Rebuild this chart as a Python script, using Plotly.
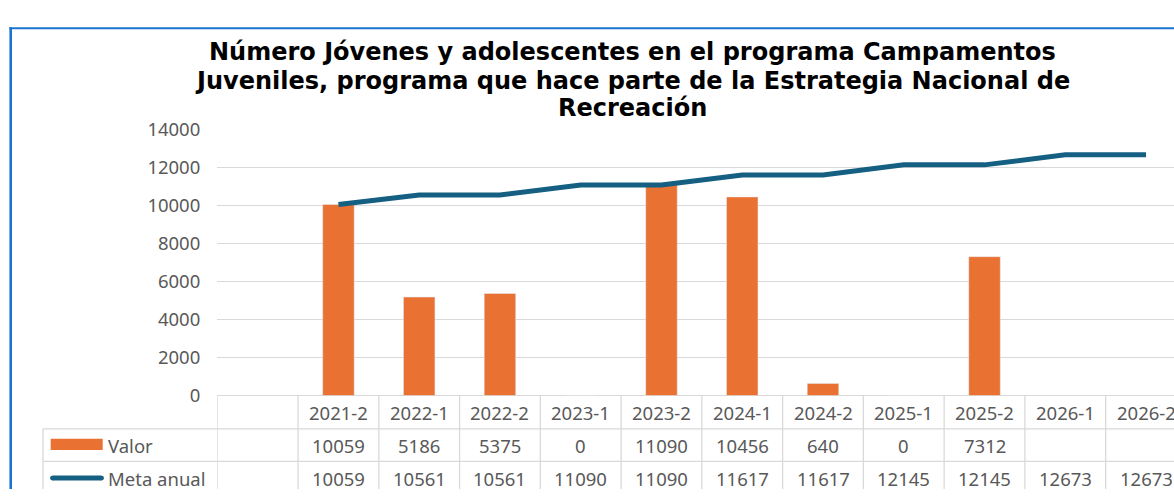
import plotly.graph_objects as go

# ---------------- data ----------------
categories = ["2021-2", "2022-1", "2022-2", "2023-1", "2023-2", "2024-1",
              "2024-2", "2025-1", "2025-2", "2026-1", "2026-2"]
valor = [10059, 5186, 5375, 0, 11090, 10456, 640, 0, 7312, None, None]
meta_anual = [10059, 10561, 10561, 11090, 11090, 11617, 11617, 12145, 12145, 12673, 12673]
series_names = ["Valor", "Meta anual"]
y_ticks = [0, 2000, 4000, 6000, 8000, 10000, 12000, 14000]
title_lines = [
    "Número Jóvenes y adolescentes en el programa Campamentos",
    "Juveniles, programa que hace parte de la Estrategia Nacional de",
    "Recreación",
]

# ---------------- styling ----------------
W, H = 1174, 500
ORANGE = "#E97132"
BLUE = "#156082"
GRID = "#D9D9D9"
TXT = "#595959"
FONT = "Noto Sans"
FS = 18.5


def px(x):
    return x / W


def py(y):
    return 1 - y / H


PLOT_L, PLOT_T, PLOT_B = 217.3, 121.7, 401.7
COL_W = 80.76
x_max = (W - PLOT_L) / COL_W - 0.5

# the first category column of the chart is blank; data sit at positions 1..N
x_pos = list(range(1, len(categories) + 1))

fig = go.Figure()
fig.add_trace(go.Bar(x=x_pos, y=valor, name=series_names[0], marker_color=ORANGE,
                     width=0.39, showlegend=False))
fig.add_trace(go.Scatter(x=x_pos, y=meta_anual, name=series_names[1], mode="lines",
                         line=dict(color=BLUE, width=5), showlegend=False))

shapes = []
annotations = []

# table rows (y pixel centres)
ROW_HDR, ROW_V, ROW_M = 419.5, 454.0, 488.5
LINE_1, LINE_2 = 436.7, 471.0

# horizontal table lines
for yl in (LINE_1, LINE_2):
    shapes.append(dict(type="line", xref="paper", yref="paper", x0=px(43), x1=1,
                       y0=py(yl), y1=py(yl), line=dict(color=GRID, width=1.3)))
# vertical table lines along category boundaries
for i in range(len(categories) + 1):
    shapes.append(dict(type="line", xref="x", yref="paper", x0=i - 0.5, x1=i - 0.5,
                       y0=py(PLOT_B), y1=0, line=dict(color=GRID, width=1.3)))
shapes.append(dict(type="line", xref="paper", yref="paper", x0=px(43), x1=px(43),
                   y0=py(LINE_1), y1=0, line=dict(color=GRID, width=1.3)))


def label(x, y, text, xref="paper", xanchor="center", **font):
    f = dict(family=FONT, size=FS, color=TXT)
    f.update(font)
    return dict(x=x, y=y, xref=xref, yref="paper", text=text, showarrow=False,
                xanchor=xanchor, yanchor="middle", font=f)


# table text
for xi, cat, v, m in zip(x_pos, categories, valor, meta_anual):
    annotations.append(label(xi, py(ROW_HDR), cat, xref="x"))
    if v is not None:
        annotations.append(label(xi, py(ROW_V), str(v), xref="x"))
    annotations.append(label(xi, py(ROW_M), str(m), xref="x"))

# legend keys in the table
shapes.append(dict(type="rect", xref="paper", yref="paper", x0=px(50.7), x1=px(102.7),
                   y0=py(459), y1=py(447), fillcolor=ORANGE, line=dict(width=0)))
shapes.append(dict(type="line", xref="paper", yref="paper", x0=px(52.5), x1=px(101.5),
                   y0=py(ROW_M), y1=py(ROW_M), line=dict(color=BLUE, width=5)))
for cx in (52.5, 101.5):
    shapes.append(dict(type="circle", xref="paper", yref="paper", x0=px(cx - 2.5), x1=px(cx + 2.5),
                       y0=py(ROW_M + 2.5), y1=py(ROW_M - 2.5), fillcolor=BLUE, line=dict(width=0)))
for name, yy in zip(series_names, (ROW_V, ROW_M)):
    annotations.append(label(px(106), py(yy), name, xanchor="left"))

# title (three centred lines)
for line_txt, yc in zip(title_lines, (39.5, 70, 99)):
    annotations.append(label(px(632), py(yc), "<b>" + line_txt + "</b>",
                             family="DejaVu Sans", size=24, color="#000000"))

# selection border of the chart (left and top)
shapes.append(dict(type="line", xref="paper", yref="paper", x0=px(10.7), x1=px(10.7),
                   y0=0, y1=py(14), line=dict(color="#1B75D0", width=2.6)))
shapes.append(dict(type="line", xref="paper", yref="paper", x0=px(9.4), x1=1,
                   y0=py(15), y1=py(15), line=dict(color="#1B75D0", width=2.2)))

fig.update_layout(
    width=W, height=H,
    margin=dict(l=0, r=0, t=0, b=0),
    paper_bgcolor="white", plot_bgcolor="white",
    shapes=shapes, annotations=annotations,
    showlegend=False,
    xaxis=dict(domain=[px(PLOT_L), 1], range=[-0.5, x_max], showticklabels=False,
               showgrid=False, zeroline=False, showline=False, fixedrange=True),
    yaxis=dict(domain=[py(PLOT_B), py(PLOT_T)], range=[0, 14000], tickvals=y_ticks,
               tickformat="d",
               showgrid=True, gridcolor=GRID, gridwidth=1.3, zeroline=True,
               zerolinecolor=GRID, zerolinewidth=1.3, showline=False,
               tickfont=dict(family=FONT, size=FS, color=TXT), ticklabelstandoff=16,
               fixedrange=True),
)

post = (
    "var gd=document.querySelector('.plotly-graph-div');"
    "gd.style.position='fixed';gd.style.top='0px';gd.style.left='0px';"
    "document.documentElement.style.margin='0';document.body.style.margin='0';"
    "document.documentElement.style.overflow='hidden';document.body.style.overflow='hidden';"
)
fig.write_html("out.html", config={"displayModeBar": False}, post_script=post)
